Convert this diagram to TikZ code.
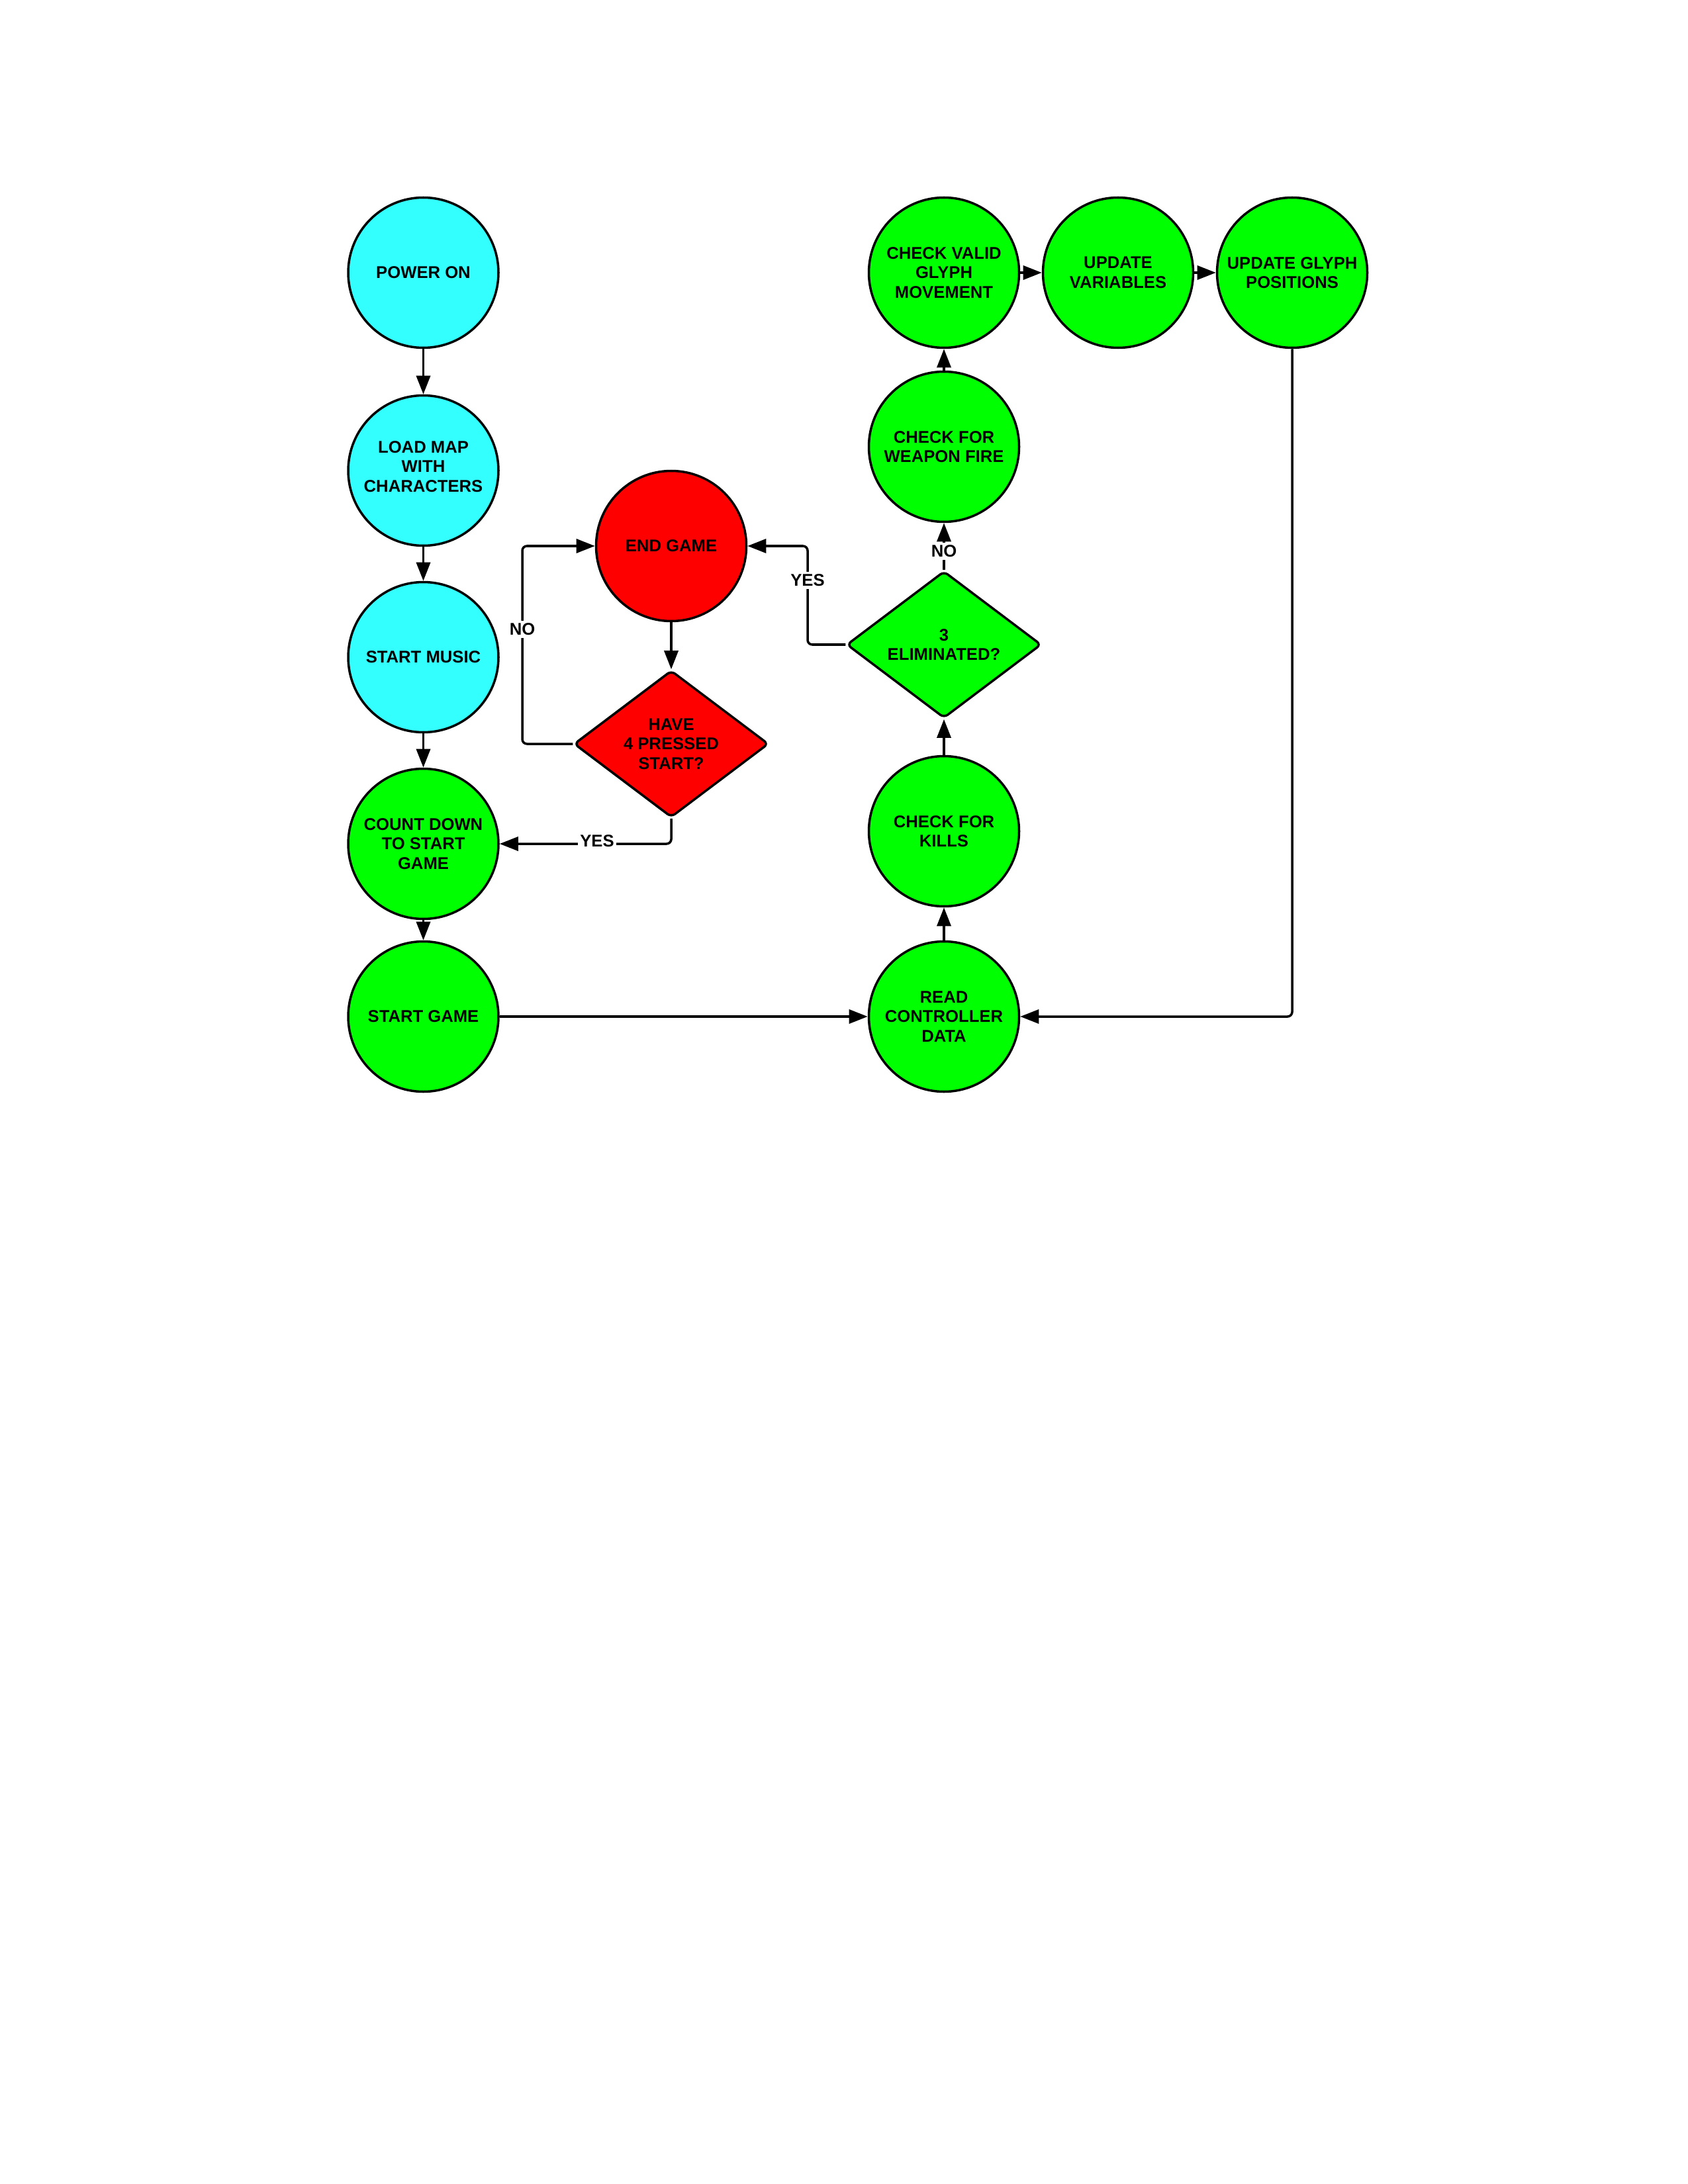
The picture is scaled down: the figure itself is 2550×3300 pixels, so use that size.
\documentclass[tikz,border=0pt]{standalone}
\usepackage{fontspec}
\setmainfont{Liberation Sans}
\usetikzlibrary{shapes.geometric,arrows.meta}
\definecolor{cyanfill}{RGB}{51,255,255}
\definecolor{greenfill}{RGB}{0,255,0}
\definecolor{redfill}{RGB}{255,0,0}
\begin{document}
\begin{tikzpicture}[x=0.1mm,y=-0.1mm,
  every node/.style={font=\fontsize{7.3}{8.4}\selectfont\bfseries, align=center},
  circ/.style={circle, draw=black, line width=1pt, minimum size=22.7mm, inner sep=0pt},
  dia/.style={diamond, draw=black, line width=1pt, minimum width=29.4mm, minimum height=22.2mm, aspect=1.32, inner sep=0pt, rounded corners=2pt},
  arr/.style={line width=1pt, -{Triangle[length=8pt,width=6pt]}, rounded corners=2pt},
  lbl/.style={fill=white, inner sep=1pt}
]
\useasboundingbox (0,0) rectangle (2550,3300);
% left column
\node[circ, fill=cyanfill] (power) at (639.5,412) {POWER ON};
\node[circ, fill=cyanfill, label={[yshift=0.6mm]center:{LOAD MAP\\WITH\\CHARACTERS}}] (load) at (639.5,711) {};
\node[circ, fill=cyanfill] (music) at (639.5,993) {START MUSIC};
\node[circ, fill=greenfill] (count) at (639.5,1275) {COUNT DOWN\\TO START\\GAME};
\node[circ, fill=greenfill] (start) at (639.5,1536) {START GAME};
% middle
\node[circ, fill=redfill] (endg) at (1014,825) {END GAME};
\node[dia, fill=redfill] (have) at (1014,1124) {HAVE\\4 PRESSED\\START?};
% right
\node[circ, fill=greenfill] (valid) at (1426,412) {CHECK VALID\\GLYPH\\MOVEMENT};
\node[circ, fill=greenfill] (updvar) at (1689,412) {UPDATE\\VARIABLES};
\node[circ, fill=greenfill] (updgly) at (1952,412) {UPDATE GLYPH\\POSITIONS};
\node[circ, fill=greenfill] (weapon) at (1426,675) {CHECK FOR\\WEAPON FIRE};
\node[dia, fill=greenfill] (elim) at (1426,974) {3\\ELIMINATED?};
\node[circ, fill=greenfill] (kills) at (1426,1256) {CHECK FOR\\KILLS};
\node[circ, fill=greenfill] (read) at (1426,1536) {READ\\CONTROLLER\\DATA};
% corners
\coordinate (cy) at (1220,974);
\coordinate (cn) at (789,1124);
\coordinate (cg) at (1952,1536);
% connectors
\draw[arr] (power) -- (load);
\draw[arr] (load) -- (music);
\draw[arr] (music) -- (count);
\draw[arr] (count) -- (start);
\draw[arr] (start) -- (read);
\draw[arr] (read) -- (kills);
\draw[arr] (kills) -- (elim);
\draw[arr] (elim) -- (weapon);
\draw[arr] (weapon) -- (valid);
\draw[arr] (valid) -- (updvar);
\draw[arr] (updvar) -- (updgly);
\draw[arr] (updgly) -- (cg) -- (read);
\draw[arr] (elim.west) -- (cy) |- (endg.east);
\draw[arr] (endg) -- (have);
\draw[arr] (have.west) -- (cn) |- (endg.west);
\draw[arr] (have.south) |- (count.east);
% labels
\node[lbl] (lno1) at (1426,833) {NO};
\node[lbl] (lyes1) at (1220,877) {YES};
\node[lbl] (lno2) at (789,951) {NO};
\node[lbl] (lyes2) at (902,1271) {YES};
\end{tikzpicture}
\end{document}
